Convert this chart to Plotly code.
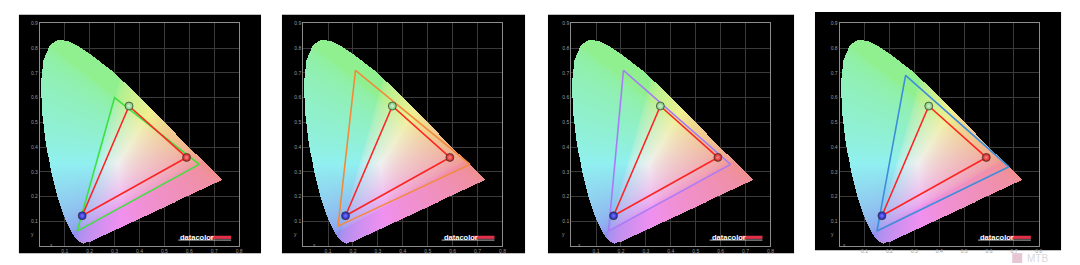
import numpy as np
import plotly.graph_objects as go

# CIE 1931 2-degree spectral locus (380-700 nm, 5 nm)
locus_x = [0.1741, 0.1740, 0.1738, 0.1736, 0.1733, 0.1730, 0.1726, 0.1721, 0.1714, 0.1703,
           0.1689, 0.1669, 0.1644, 0.1611, 0.1566, 0.1510, 0.1440, 0.1355, 0.1241, 0.1096,
           0.0913, 0.0687, 0.0454, 0.0235, 0.0082, 0.0039, 0.0139, 0.0389, 0.0743, 0.1142,
           0.1547, 0.1929, 0.2296, 0.2658, 0.3016, 0.3373, 0.3731, 0.4087, 0.4441, 0.4788,
           0.5125, 0.5448, 0.5752, 0.6029, 0.6270, 0.6482, 0.6658, 0.6801, 0.6915, 0.7006,
           0.7079, 0.7140, 0.7190, 0.7230, 0.7260, 0.7283, 0.7300, 0.7311, 0.7320, 0.7327,
           0.7334, 0.7340, 0.7344, 0.7346, 0.7347]
locus_y = [0.0050, 0.0050, 0.0049, 0.0049, 0.0048, 0.0048, 0.0048, 0.0048, 0.0051, 0.0058,
           0.0069, 0.0086, 0.0109, 0.0138, 0.0177, 0.0227, 0.0297, 0.0399, 0.0578, 0.0868,
           0.1327, 0.2007, 0.2950, 0.4127, 0.5384, 0.6548, 0.7502, 0.8120, 0.8338, 0.8262,
           0.8059, 0.7816, 0.7543, 0.7243, 0.6923, 0.6589, 0.6245, 0.5896, 0.5547, 0.5202,
           0.4866, 0.4544, 0.4242, 0.3965, 0.3725, 0.3514, 0.3340, 0.3197, 0.3083, 0.2993,
           0.2920, 0.2859, 0.2809, 0.2770, 0.2740, 0.2717, 0.2700, 0.2689, 0.2680, 0.2673,
           0.2666, 0.2660, 0.2656, 0.2654, 0.2653]

# measured display gamut (R, G, B)
measured_x = [0.589, 0.358, 0.170]
measured_y = [0.358, 0.566, 0.122]
measured_colors = ["#c81818", "#6fc46f", "#1c1cc0"]
measured_highlights = ["#ff8a8a", "#d8f5d8", "#7a7aff"]

# reference gamuts, one per panel (R, G, B)
ref_names = ["sRGB", "NTSC", "Adobe RGB", "DCI-P3"]
ref_x = [[0.64, 0.30, 0.15], [0.67, 0.21, 0.14], [0.64, 0.21, 0.15], [0.68, 0.265, 0.15]]
ref_y = [[0.33, 0.60, 0.06], [0.33, 0.71, 0.08], [0.33, 0.71, 0.06], [0.32, 0.69, 0.06]]
ref_colors = ["#3fe03f", "#f28a3a", "#a77cf6", "#3c8ed8"]

x_ticks = [0.1, 0.2, 0.3, 0.4, 0.5, 0.6, 0.7, 0.8]
x_tick_text = ["0.1", "0.2", "0.3", "0.4", "0.5", "0.6", "0.7", "0.8"]
y_ticks = [0.1, 0.2, 0.3, 0.4, 0.5, 0.6, 0.7, 0.8, 0.9]
y_tick_text = ["0.1", "0.2", "0.3", "0.4", "0.5", "0.6", "0.7", "0.8", "0.9"]

# ---------------- layout geometry (pixels) ----------------
W, H = 1080, 265
plot_left = [40, 304.3, 573.3, 842.7]
plot_w = 200
plot_top, plot_bot = 20.7, 245.7
boxes = [(19, 262, 12, 253), (283, 527, 12, 253), (550, 797, 12, 253), (818, 1065, 9, 250)]


def px(x):
    return x / W


def py(y):
    return 1 - y / H


# ---------------- horseshoe image ----------------
step = 0.004
gx = np.arange(0, 0.8, step) + step / 2
gy = np.arange(0, 0.9, step) + step / 2
XX, YY = np.meshgrid(gx, gy)
vx = np.array(locus_x)
vy = np.array(locus_y)
inside = np.zeros(XX.shape, dtype=bool)
n = len(vx)
for i in range(n):
    j = i - 1
    xi, yi, xj, yj = vx[i], vy[i], vx[j], vy[j]
    cond = ((yi > YY) != (yj > YY)) & (XX < (xj - xi) * (YY - yi) / (yj - yi + 1e-12) + xi)
    inside ^= cond

Yc = np.maximum(YY, 1e-3)
Xc = XX / Yc
Zc = (1 - XX - YY) / Yc
M = np.array([[3.2406, -1.5372, -0.4986], [-0.9689, 1.8758, 0.0415], [0.0557, -0.2040, 1.0570]])
rgb = np.stack([M[k, 0] * Xc + M[k, 1] * 1.0 + M[k, 2] * Zc for k in range(3)], axis=-1)
rgb = np.clip(rgb, 0, None)
rgb = rgb / np.maximum(rgb.max(axis=-1, keepdims=True), 1e-6)
rgb = rgb ** (1 / 2.2)
rgb = (0.6 + 0.4 * rgb) * 0.94
img = np.zeros(XX.shape + (4,))
img[..., :3] = np.clip(rgb * 255, 0, 255)
img[..., 3] = inside.astype(float)

fig = go.Figure()

for p in range(4):
    sfx = "" if p == 0 else str(p + 1)
    xa, ya = "x" + sfx, "y" + sfx
    fig.add_trace(go.Image(z=img, colormodel="rgba", x0=step / 2, dx=step, y0=step / 2, dy=step,
                           xaxis=xa, yaxis=ya, hoverinfo="skip"))
    fig.add_trace(go.Scatter(x=ref_x[p] + [ref_x[p][0]], y=ref_y[p] + [ref_y[p][0]], mode="lines",
                             line=dict(color=ref_colors[p], width=1.6), xaxis=xa, yaxis=ya,
                             name=ref_names[p], showlegend=False, hoverinfo="skip"))
    fig.add_trace(go.Scatter(x=measured_x + [measured_x[0]], y=measured_y + [measured_y[0]], mode="lines",
                             line=dict(color="#ff2424", width=1.6), xaxis=xa, yaxis=ya,
                             showlegend=False, hoverinfo="skip"))
    fig.add_trace(go.Scatter(x=measured_x, y=measured_y, mode="markers",
                             marker=dict(size=8, color=measured_colors,
                                         line=dict(color="#3a3a2a", width=0.7),
                                         gradient=dict(type="radial", color=measured_highlights)),
                             xaxis=xa, yaxis=ya, showlegend=False, hoverinfo="skip"))

    x0 = plot_left[p]
    axis_common = dict(showgrid=True, gridcolor="#3a3a3a", gridwidth=1, zeroline=False,
                       showline=True, mirror=True, linecolor="#8c8c8c", linewidth=1,
                       ticks="", tickfont=dict(size=5, color="#9a9a9a", family="Liberation Sans"),
                       fixedrange=True)
    fig.layout["xaxis" + sfx] = dict(domain=[px(x0), px(x0 + plot_w)], range=[0, 0.8], autorange=False,
                                     anchor=ya, tickvals=x_ticks, ticktext=x_tick_text, **axis_common)
    fig.layout["yaxis" + sfx] = dict(domain=[py(plot_bot), py(plot_top)], range=[0, 0.9], autorange=False,
                                     anchor=xa, tickvals=y_ticks, ticktext=y_tick_text,
                                     scaleanchor=False, **axis_common)

    # black panel background
    bx0, bx1, by0, by1 = boxes[p]
    fig.add_shape(type="rect", xref="paper", yref="paper", x0=px(bx0), x1=px(bx1), y0=py(by1), y1=py(by0),
                  fillcolor="black", line=dict(width=0), layer="below")
    # axis name labels at origin corner
    fig.add_annotation(xref="paper", yref="paper", x=px(x0 + 8), y=py(249.5), text="x", showarrow=False,
                       font=dict(size=5, color="#9a9a9a", family="Liberation Sans"))
    fig.add_annotation(xref="paper", yref="paper", x=px(x0 - 4), y=py(239), text="y", showarrow=False,
                       xanchor="right", font=dict(size=5, color="#9a9a9a", family="Liberation Sans"))
    # datacolor logo
    fig.add_annotation(xref="paper", yref="paper", x=px(x0 + 139), y=py(236.8), text="<b>datacolor</b>",
                       showarrow=False, xanchor="left", yanchor="middle",
                       font=dict(size=7.5, color="white", family="Liberation Sans"))
    fig.add_shape(type="rect", xref="paper", yref="paper", x0=px(x0 + 171), x1=px(x0 + 192),
                  y0=py(238.6), y1=py(235.4), fillcolor="#e0304a", line=dict(width=0))
    fig.add_shape(type="line", xref="paper", yref="paper", x0=px(x0 + 139), x1=px(x0 + 192),
                  y0=py(239.8), y1=py(239.8), line=dict(color="#e8e8e8", width=0.8))

# watermark at bottom right
fig.add_shape(type="rect", xref="paper", yref="paper", x0=px(1016), x1=px(1026), y0=py(263), y1=py(253),
              fillcolor="#e7c6d4", line=dict(width=0))
fig.add_annotation(xref="paper", yref="paper", x=px(1029), y=py(250.5), text="MTB", showarrow=False,
                   xanchor="left", yanchor="top", font=dict(size=10, color="#d9d9dd", family="Liberation Sans"))

fig.update_layout(width=W, height=H, margin=dict(l=0, r=0, t=0, b=0),
                  paper_bgcolor="white", plot_bgcolor="rgba(0,0,0,0)", showlegend=False)

fig.write_html("out.html")
